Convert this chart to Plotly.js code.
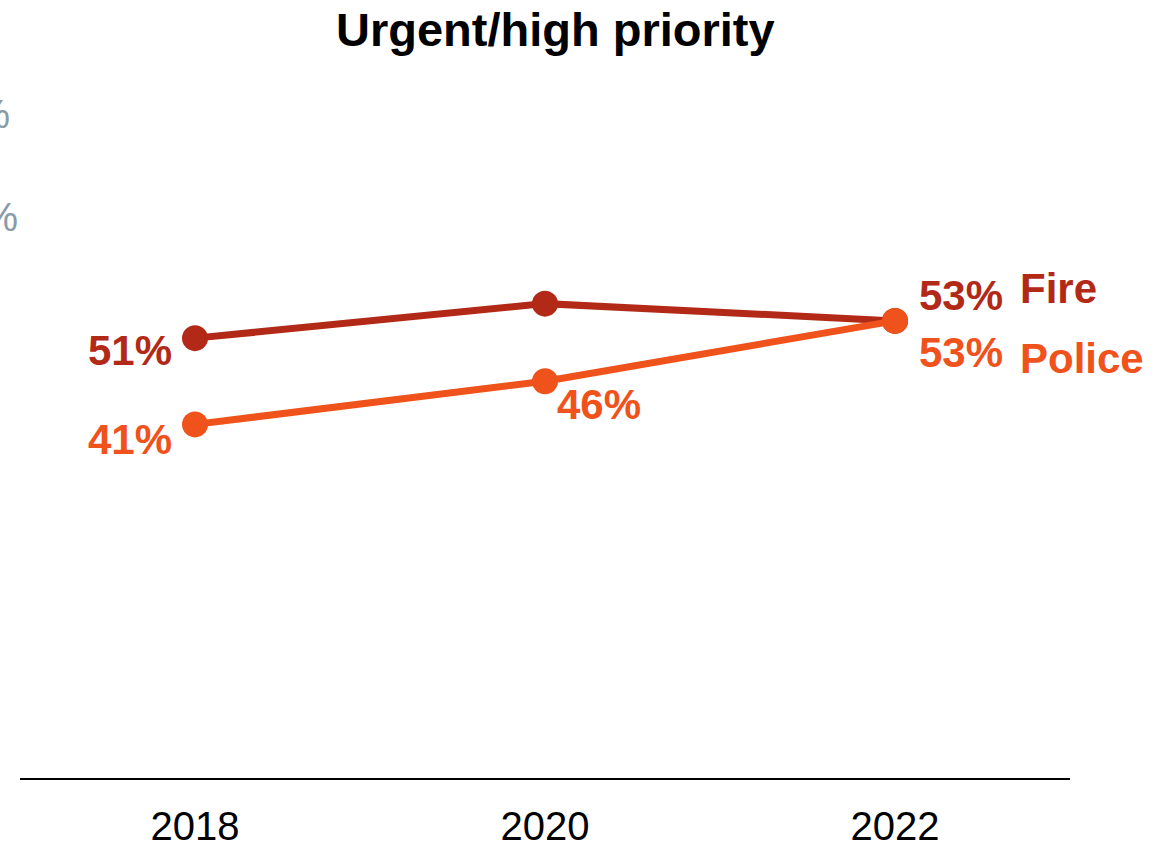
<!DOCTYPE html>
<html>
<head>
<meta charset="utf-8">
<script src="https://cdn.plot.ly/plotly-3.0.1.min.js"></script>
<style>html,body{margin:0;padding:0;background:#fff;}#chart{width:1174px;height:849px;}</style>
</head>
<body>
<div id="chart"></div>
<script>
const years = [2018, 2020, 2022];
const fireValues = [51, 55, 53];
const policeValues = [41, 46, 53];
const seriesNames = ["Fire", "Police"];
const tickYears = [2018, 2020, 2022];
const tickLabels = ["2018", "2020", "2022"];
const cutTickLabels = ["80%", "70%"];
const cutTickValues = [77, 65];

const fireColor = "#b22a17";
const policeColor = "#f0521c";
const FONT = "Liberation Sans, Arial, sans-serif";

const fmt = v => v + "%";

// label offsets (pixels) per point: styles only; null anchor = no label
const fireOffsets = [[-21, -12, "right"], [0, 0, null], [22, 25, "left"]];
const policeOffsets = [[-21, -15, "right"], [10, -23, "left"], [22, -32, "left"]];

function mkTrace(name, ys, color) {
  return {
    x: years, y: ys, name: name, type: "scatter", mode: "lines+markers",
    line: {color: color, width: 7},
    marker: {color: color, size: 26},
    hoverinfo: "skip", showlegend: false, cliponaxis: false
  };
}

const annotations = [];
function addLabels(ys, offsets, color) {
  ys.forEach((v, i) => {
    const o = offsets[i];
    if (!o[2]) return;
    annotations.push({
      x: years[i], y: v, xref: "x", yref: "y", text: "<b>" + fmt(v) + "</b>",
      showarrow: false, xanchor: o[2], yanchor: "middle",
      xshift: o[0], yshift: o[1],
      font: {family: FONT, size: 42, color: color}
    });
  });
}
addLabels(fireValues, fireOffsets, fireColor);
addLabels(policeValues, policeOffsets, policeColor);

annotations.push({
  x: years[2], y: policeValues[2], xref: "x", yref: "y", text: "<b>" + seriesNames[0] + "</b>",
  showarrow: false, xanchor: "left", yanchor: "middle", xshift: 123, yshift: 32,
  font: {family: FONT, size: 42, color: fireColor}
});
annotations.push({
  x: years[2], y: policeValues[2], xref: "x", yref: "y", text: "<b>" + seriesNames[1] + "</b>",
  showarrow: false, xanchor: "left", yanchor: "middle", xshift: 123, yshift: -38,
  font: {family: FONT, size: 42, color: policeColor}
});

cutTickLabels.forEach((t, i) => {
  annotations.push({
    x: i === 0 ? -0.0075 : 0, y: cutTickValues[i], xref: "paper", yref: "y", text: t,
    showarrow: false, xanchor: "right", yanchor: "middle",
    font: {family: FONT, size: 40, color: "#8a9ba8"}
  });
});

annotations.push({
  x: 0.51, y: 1 + (88 - 30) / (849 - 88 - 71), xref: "paper", yref: "paper",
  text: "<b>Urgent/high priority</b>",
  showarrow: false, xanchor: "center", yanchor: "middle",
  font: {family: FONT, size: 47, color: "#000"}
});

const layout = {
  width: 1174, height: 849,
  margin: {l: 20, r: 104, t: 88, b: 71, pad: 0},
  paper_bgcolor: "#fff", plot_bgcolor: "#fff",
  showlegend: false,
  xaxis: {
    range: [2017, 2023], showgrid: false, zeroline: false,
    showline: true, linecolor: "#000", linewidth: 2,
    tickmode: "array", tickvals: tickYears, ticktext: tickLabels,
    ticks: "", ticklabelstandoff: 12,
    tickfont: {family: FONT, size: 40, color: "#000"}
  },
  yaxis: {
    range: [0, 80], showgrid: false, zeroline: false, showline: false,
    showticklabels: false, ticks: ""
  },
  annotations: annotations
};

Plotly.newPlot("chart", [mkTrace(seriesNames[0], fireValues, fireColor), mkTrace(seriesNames[1], policeValues, policeColor)], layout, {staticPlot: true});
</script>
</body>
</html>
